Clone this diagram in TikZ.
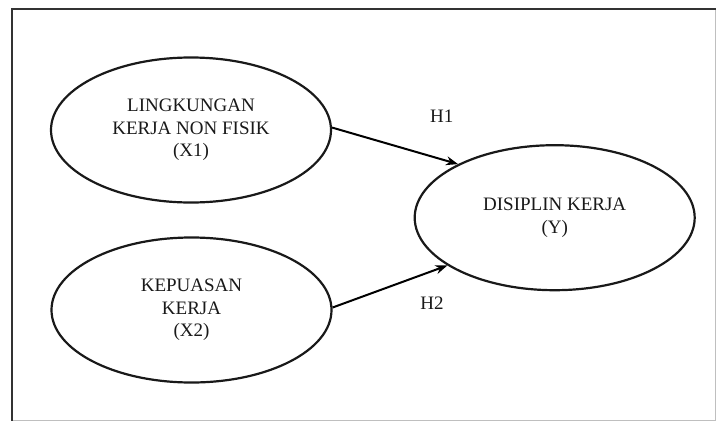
\documentclass[tikz,border=0pt]{standalone}
\usepackage{fontspec}
\setmainfont{Liberation Serif}
\usetikzlibrary{shapes.geometric,arrows.meta}
\begin{document}
\begin{tikzpicture}[x=1pt,y=-1pt,
  var/.style={ellipse,draw=black!90,line width=2.2pt,minimum width=280pt,minimum height=145pt,inner sep=0pt,
    align=center,text=black!90,font=\fontsize{19}{22.5}\selectfont},
  link/.style={draw=black,line width=2pt,-{Stealth[length=12pt,width=9pt]}},
  hyp/.style={text=black!90,font=\fontsize{19}{22.5}\selectfont,inner sep=0pt}]
\useasboundingbox (0,0) rectangle (716,421);
\fill[white] (0,0) rectangle (716,421);
% frame
\draw[black!25,line width=1pt] (715.5,9) -- (715.5,420.5) -- (12,420.5);
\draw[black!80,line width=2.4pt] (12,421) -- (12,9) -- (716,9);
% nodes
\node[var] (x1) at (191,130) {LINGKUNGAN\\KERJA NON FISIK\\(X1)};
\node[var] (x2) at (191.5,310) {KEPUASAN\\KERJA\\(X2)};
\node[var] (y) at (554.7,217.7) {DISIPLIN KERJA\\(Y)};
% connectors
\draw[link] (x1.1) -- (y.151);
\draw[link] (x2.1) -- (y.204);
% labels
\node[hyp] (h1) at (441.7,116) {H1};
\node[hyp] (h2) at (432,303.5) {H2};
\end{tikzpicture}
\end{document}
